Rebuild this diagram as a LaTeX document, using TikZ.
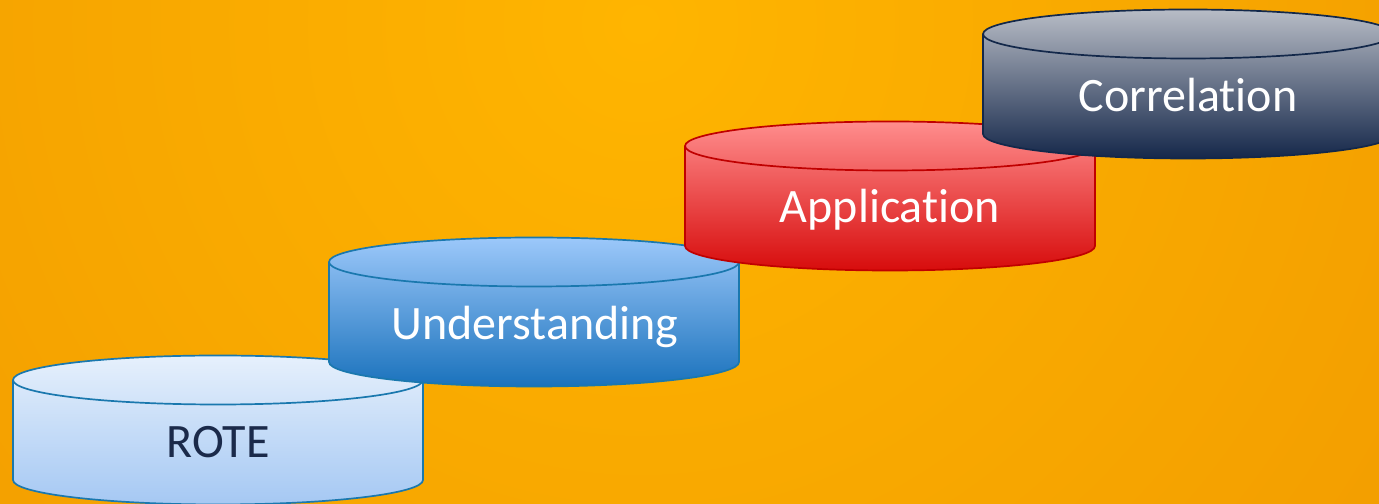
\documentclass[tikz,border=0pt]{standalone}
\usepackage{fontspec}
\setmainfont{Carlito}[Ligatures={NoCommon,NoContextual}]
\definecolor{bgin}{HTML}{FFB500}
\definecolor{bgout}{HTML}{E58400}
\definecolor{roteTop}{HTML}{E6F0FC}
\definecolor{roteBot}{HTML}{A5C8F3}
\definecolor{blueLine}{HTML}{1A78AE}
\definecolor{undTop}{HTML}{9CC8FA}
\definecolor{undBot}{HTML}{1A72BC}
\definecolor{appTop}{HTML}{FF8D8D}
\definecolor{appBot}{HTML}{D70C0C}
\definecolor{appLine}{HTML}{C00000}
\definecolor{corTop}{HTML}{B8BDC6}
\definecolor{corBot}{HTML}{15274A}
\definecolor{corLine}{HTML}{13284A}
\definecolor{roteText}{HTML}{1B2A4A}
\pgfdeclareradialshading{bgshade}{\pgfpoint{0bp}{0bp}}{color(0bp)=(bgin); color(50bp)=(bgout)}
% #1 left x, #2 top-ellipse centre y, #3 top colour, #4 bottom colour, #5 line colour
\newcommand{\mycan}[5]{%
  \path[shade, top color=#3, bottom color=#4, draw=#5, line width=1.7bp]
    (#1,#2) -- (#1,#2-100) arc (180:360:205 and 24.5) -- (#1+410,#2)
    arc (0:180:205 and 24.5) -- cycle;
  \draw[#5, line width=1.7bp] (#1,#2) arc (180:360:205 and 24.5);
}
\tikzset{canlabel/.style={anchor=base, font=\fontsize{48bp}{54bp}\selectfont, inner sep=0pt}}
\begin{document}
\begin{tikzpicture}[x=1bp,y=1bp]
\useasboundingbox (0,0) rectangle (1379,504);
\begin{scope}
  \clip (0,0) rectangle (1379,504);
  \shade[shading=bgshade] (640,480) circle (960);
  \mycan{13}{124}{roteTop}{roteBot}{blueLine}
  \node[canlabel, text=roteText] (rote) at (218,46) {ROTE};
  \mycan{329}{242}{undTop}{undBot}{blueLine}
  \node[canlabel, text=white] (und) at (535,164) {Understanding};
  \mycan{685}{358}{appTop}{appBot}{appLine}
  \node[canlabel, text=white] (app) at (890,281) {Application};
  \mycan{983}{470}{corTop}{corBot}{corLine}
  \node[canlabel, text=white] (cor) at (1188,392) {Correlation};
\end{scope}
\end{tikzpicture}
\end{document}
